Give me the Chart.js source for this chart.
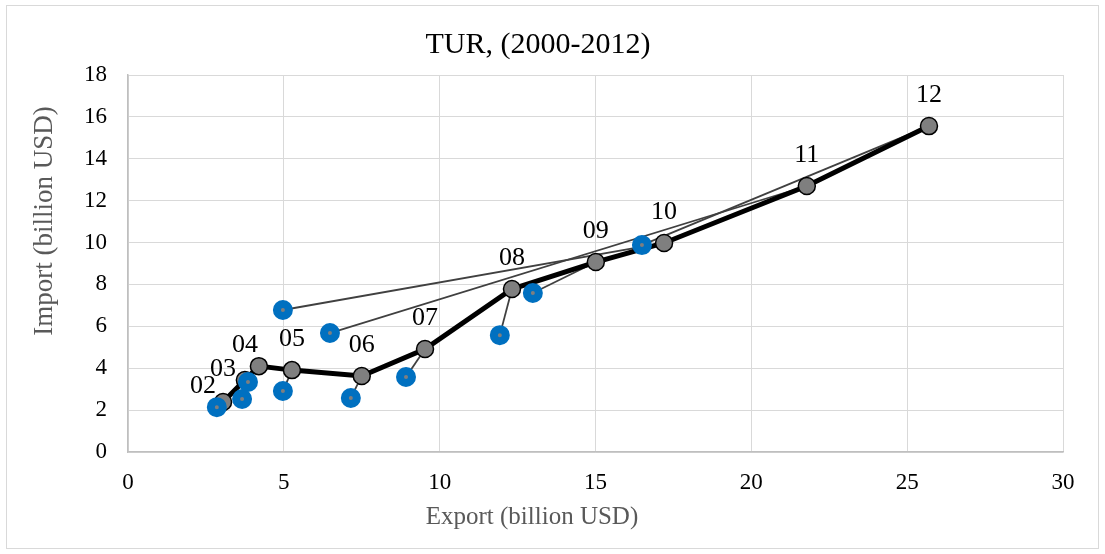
<!DOCTYPE html>
<html>
<head>
<meta charset="utf-8">
<script src="https://cdn.jsdelivr.net/npm/chart.js@4.4.1/dist/chart.umd.min.js"></script>
<style>
  html, body { margin: 0; padding: 0; background: #fff; }
  #wrap { width: 1105px; height: 554px; }
</style>
</head>
<body>
<div id="wrap"><canvas id="tradeChart" width="1105" height="554"></canvas></div>
<script>
// data (billion USD)
const yearLabels = ["02", "03", "04", "05", "06", "07", "08", "09", "10", "11", "12"];
const exportActual = [3.05, 3.75, 4.2, 5.26, 7.5, 9.53, 12.32, 15.01, 17.2, 21.78, 25.7];
const importActual = [2.39, 3.44, 4.1, 3.91, 3.63, 4.92, 7.78, 9.07, 9.98, 12.7, 15.56];
const exportBlue = [2.85, 3.66, 3.85, 4.97, 7.15, 8.92, 11.93, 12.99, 4.97, 6.48, 16.49];
const importBlue = [2.14, 2.53, 3.34, 2.91, 2.58, 3.58, 5.58, 7.59, 6.78, 5.68, 9.88];
const xTicks = [0, 5, 10, 15, 20, 25, 30];
const yTicks = [0, 2, 4, 6, 8, 10, 12, 14, 16, 18];

const chartTitle = "TUR, (2000-2012)";
const xTitle = "Export (billion USD)";
const yTitle = "Import (billion USD)";

const serif = "'Liberation Serif', 'Times New Roman', serif";

const actualPoints = exportActual.map((x, i) => ({ x: x, y: importActual[i] }));
const bluePoints = exportBlue.map((x, i) => ({ x: x, y: importBlue[i] }));

// thin connectors: blue point -> actual point of same year
const connectors = yearLabels.map((yr, i) => ({
  label: "link " + yr,
  data: [bluePoints[i], actualPoints[i]],
  showLine: true,
  borderColor: "#404040",
  borderWidth: 1.8,
  pointRadius: 0,
  order: 2,
}));

// year labels above the black path
const yearLabelPlugin = {
  id: "yearLabels",
  afterDatasetsDraw(chart) {
    const ctx = chart.ctx;
    const xs = chart.scales.x;
    const ys = chart.scales.y;
    const shift = { "02": [-20, -16], "03": [-22, -11], "04": [-14, -21] };
    ctx.save();
    ctx.font = "26px " + serif;
    ctx.fillStyle = "#000";
    ctx.textAlign = "center";
    ctx.textBaseline = "middle";
    yearLabels.forEach((yr, i) => {
      const px = xs.getPixelForValue(exportActual[i]);
      const py = ys.getPixelForValue(importActual[i]);
      const s = shift[yr] || [0, -31];
      ctx.fillText(yr, px + s[0], py + s[1]);
    });
    ctx.restore();
  },
};

// frame + titles (placed like the excel original, not centred on the plot)
const framePlugin = {
  id: "frame",
  beforeDraw(chart) {
    const ctx = chart.ctx;
    ctx.save();
    ctx.fillStyle = "#fff";
    ctx.fillRect(0, 0, chart.width, chart.height);
    ctx.strokeStyle = "#d9d9d9";
    ctx.lineWidth = 1;
    ctx.strokeRect(6.5, 5.5, 1092, 543);
    ctx.restore();
  },
  afterDraw(chart) {
    const ctx = chart.ctx;
    ctx.save();
    ctx.textAlign = "center";
    ctx.textBaseline = "middle";
    ctx.fillStyle = "#000";
    ctx.font = "30px " + serif;
    ctx.fillText(chartTitle, 538, 45);
    ctx.fillStyle = "#595959";
    ctx.font = "25px " + serif;
    ctx.fillText(xTitle, 532, 517);
    ctx.translate(45, 221);
    ctx.rotate(-Math.PI / 2);
    ctx.font = "27px " + serif;
    ctx.fillText(yTitle, 0, 0);
    ctx.restore();
  },
};

const ctx = document.getElementById("tradeChart").getContext("2d");
new Chart(ctx, {
  type: "scatter",
  data: {
    datasets: [
      {
        label: "fitted",
        data: bluePoints,
        pointRadius: 6,
        pointBorderWidth: 8,
        pointBackgroundColor: "#7f7f7f",
        pointBorderColor: "#0070c0",
        order: 0,
      },
      {
        label: "actual",
        data: actualPoints,
        showLine: true,
        borderColor: "#000",
        borderWidth: 5,
        pointRadius: 8.5,
        pointBorderWidth: 1.5,
        pointBackgroundColor: "#7f7f7f",
        pointBorderColor: "#000",
        order: 1,
      },
      ...connectors,
    ],
  },
  options: {
    responsive: false,
    animation: false,
    layout: { padding: { left: 0, right: 42, top: 75, bottom: 0 } },
    plugins: {
      legend: { display: false },
      tooltip: { enabled: false },
      title: { display: false },
    },
    scales: {
      x: {
        type: "linear",
        min: 0,
        max: 30,
        afterBuildTicks: (scale) => { scale.ticks = xTicks.map((v) => ({ value: v })); },
        afterFit: (scale) => { scale.height = 102; },
        grid: { color: "#d9d9d9", drawTicks: false },
        border: { color: "#bfbfbf", width: 1.5 },
        ticks: { color: "#000", padding: 17, font: { family: serif, size: 23 } },
      },
      y: {
        type: "linear",
        min: 0,
        max: 18,
        afterBuildTicks: (scale) => { scale.ticks = yTicks.map((v) => ({ value: v })); },
        afterFit: (scale) => { scale.width = 128; },
        grid: { color: "#d9d9d9", drawTicks: false },
        border: { color: "#bfbfbf", width: 1.5 },
        ticks: { color: "#000", padding: 21, font: { family: serif, size: 23 } },
      },
    },
  },
  plugins: [framePlugin, yearLabelPlugin],
});
</script>
</body>
</html>
